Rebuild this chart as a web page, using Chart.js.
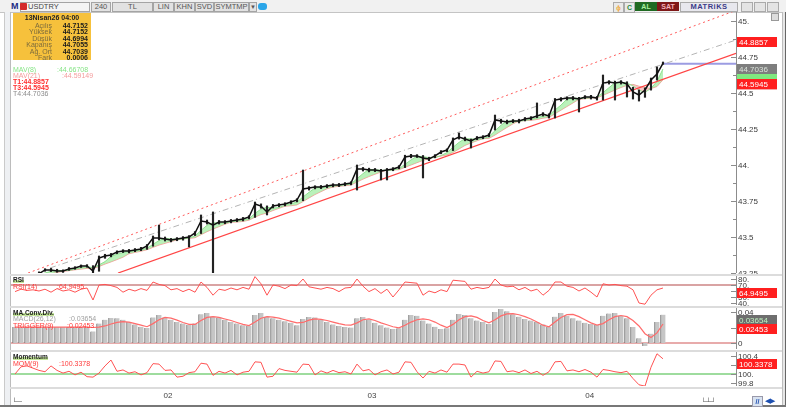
<!DOCTYPE html>
<html>
<head>
<meta charset="utf-8">
<script src="https://cdn.jsdelivr.net/npm/chart.js@4.4.1/dist/chart.umd.min.js"></script>
<style>
  body { margin: 0; width: 801px; height: 412px; background: #fff; position: relative; overflow: hidden;
         font-family: "Liberation Sans", Arial, sans-serif; }
  .a { position: absolute; white-space: nowrap; }
  canvas { position: absolute; }
  .tb { position: absolute; top: 2px; height: 8px; border: 1px solid #a4a4a4; background: #e2e2e2;
        font-size: 7.5px; line-height: 8px; text-align: center; color: #555; }
  .sep { position: absolute; left: 10px; width: 772px; height: 2px; background: #dcdcdc; }
  .t { font-size: 7px; line-height: 7px; }
  .ttl { font-size: 6.5px; line-height: 7px; font-weight: bold; color: #1a1a1a;
         background: linear-gradient(to bottom, transparent 55%, #c4e69a 55%); }
</style>
</head>
<body>
<!-- frame -->
<div class="a" style="left:0;top:0;width:786px;height:12px;background:#f1f1f1;border-bottom:1px solid #c4c4c4"></div>
<div class="a" style="left:4px;top:12px;width:5px;height:393px;background:#eef0f3;border-left:1px solid #cacaca;border-right:1px solid #bcbcbc"></div>
<div class="a" style="left:782px;top:12px;width:2px;height:393px;background:#e6e6e6;border-left:1px solid #bdbdbd;border-right:1px solid #666"></div>
<div class="a" style="left:0;top:405px;width:786px;height:2px;background:#777"></div>
<div class="sep" style="top:274px"></div>
<div class="sep" style="top:306px"></div>
<div class="sep" style="top:350px"></div>
<div class="sep" style="top:387px"></div>

<!-- toolbar -->
<div class="tb" style="left:20px;width:68px;background:#f4f4f4;text-align:left"></div>
<div class="a" style="left:11px;top:1px;font-size:9px;font-weight:bold;color:#1c2a84;line-height:11px">M</div>
<div class="a" style="left:20px;top:3px;width:7px;height:7px;background:#d42a2a;border-radius:1px"></div>
<div class="a" style="left:28px;top:2px;font-size:7.5px;line-height:10px;color:#444">USDTRY</div>
<div class="tb" style="left:91px;width:18px">240</div>
<div class="tb" style="left:112px;width:39px">TL</div>
<div class="tb" style="left:153px;width:19px">LIN</div>
<div class="tb" style="left:174px;width:19px">KHN</div>
<div class="tb" style="left:195px;width:17px">SVD</div>
<div class="tb" style="left:214px;width:33px">SYMTMP</div>
<div class="tb" style="left:249px;width:6px;font-size:6px">&#9660;</div>
<div class="a" style="left:258px;top:3px;width:9px;height:7px;background:#2aa5e8;border-radius:3px"></div>
<div class="a" style="left:613px;top:2px;width:9px;height:9px;background:#e9e9e9;border:1px solid #aaa;color:#f0a020;font-size:8px;line-height:9px;text-align:center">&#981;</div>
<div class="a" style="left:624px;top:2px;width:9px;height:9px;background:#e9e9e9;border:1px solid #aaa;color:#2a8a3a;font-size:7px;font-weight:bold;line-height:9px;text-align:center">C</div>
<div class="a" style="left:635px;top:2px;width:22px;height:9px;background:#1f6a22;color:#a8f0a0;font-size:7px;font-weight:bold;line-height:9px;text-align:center">AL</div>
<div class="a" style="left:657px;top:2px;width:22px;height:9px;background:#7e1717;color:#f4b0b8;font-size:7px;font-weight:bold;line-height:9px;text-align:center">SAT</div>
<div class="a" style="left:680px;top:2px;width:56px;height:8px;background:#e8e8ee;border:1px solid #aaa;color:#3b3b88;font-size:7.5px;font-weight:bold;line-height:8px;text-align:center;letter-spacing:0.5px">MATRiKS</div>
<div class="a" style="left:741px;top:2px;width:10px;height:8px;background:#e4e4e4;border:1px solid #aaa"></div>
<div class="a" style="left:754px;top:2px;width:10px;height:8px;background:#e4e4e4;border:1px solid #aaa"></div>
<div class="a" style="left:767px;top:2px;width:10px;height:8px;background:#e4e4e4;border:1px solid #aaa"></div>
<div class="a" style="left:771px;top:13px;width:6px;height:6px;background:#ddd;border:1px solid #999"></div>

<canvas id="main" width="771" height="266" style="left:11px;top:8px"></canvas>
<canvas id="rsi" width="771" height="37" style="left:11px;top:272px"></canvas>
<canvas id="macd" width="771" height="49" style="left:11px;top:304px"></canvas>
<canvas id="mom" width="771" height="58" style="left:11px;top:348px"></canvas>

<!-- info box -->
<div id="info" class="a" style="left:13px;top:13px;width:78px;height:47px;background:#f6c13c"></div>
<div id="legend"></div>

<!-- panel titles -->
<div class="a ttl" style="left:13px;top:276px">RSI</div>
<div class="a t" style="left:13px;top:283px;color:#ff3b3b">RSI(14)</div>
<div id="rsiTxt" class="a t" style="left:57px;top:283px;color:#ff3b3b"></div>
<div class="a ttl" style="left:13px;top:309px">MA.Conv.Div.</div>
<div class="a t" style="left:13px;top:315px;color:#a0a0a0">MACD(26,12)</div>
<div id="macdTxt" class="a t" style="left:69px;top:315px;color:#a0a0a0"></div>
<div class="a t" style="left:13px;top:322px;color:#ff3b3b">TRIGGER(9)</div>
<div id="trigTxt" class="a t" style="left:67px;top:322px;color:#ff3b3b"></div>
<div class="a ttl" style="left:13px;top:353px">Momentum</div>
<div class="a t" style="left:13px;top:360px;color:#ff3b3b">MOM(9)</div>
<div id="momTxt" class="a t" style="left:59px;top:360px;color:#ff3b3b"></div>

<!-- bottom icons -->
<div class="a" style="left:12px;top:398px;font-size:7px;color:#555">&#9492;&#9472;</div>
<div class="a" style="left:701px;top:398px;font-size:7px;color:#555">&#9492;&#9524;&#9496;</div>
<div class="a" style="left:752px;top:396px;width:9px;height:9px;background:#d8e2f0;border:1px solid #99a;color:#1d4fb0;font-size:7px;font-weight:bold;line-height:9px;text-align:center">//</div>
<div class="a" style="left:765px;top:397px;font-size:7px;color:#1d4fb0">&#9664;&#9654;</div>

<script>
// bar index 0 = first bar, 6 px apart; last bar (108) = 13Nisan26 04:00
const monthTicks = [25.5, 59.5, 95.8];
const monthLabels = ['02', '03', '04'];

const closes = [43.200,43.210,43.220,43.230,43.245,43.271,43.271,43.264,43.264,43.278,
  43.285,43.299,43.299,43.264,43.354,43.368,43.375,43.396,43.403,43.403,
  43.410,43.417,43.438,43.493,43.493,43.486,43.479,43.486,43.493,43.500,
  43.528,43.611,43.604,43.583,43.604,43.604,43.611,43.618,43.625,43.639,
  43.729,43.715,43.674,43.715,43.722,43.729,43.743,43.757,43.833,43.840,
  43.847,43.847,43.854,43.861,43.861,43.868,43.875,43.972,43.972,43.965,
  43.965,43.958,43.965,43.972,43.986,44.056,44.063,44.063,44.049,44.042,
  44.063,44.090,44.104,44.174,44.194,44.181,44.167,44.188,44.194,44.208,
  44.313,44.306,44.299,44.306,44.306,44.319,44.326,44.340,44.354,44.340,
  44.451,44.458,44.465,44.465,44.458,44.472,44.472,44.465,44.569,44.576,
  44.569,44.576,44.563,44.507,44.486,44.521,44.590,44.632,44.7055];
const highs = [43.210,43.220,43.232,43.240,43.258,43.280,43.282,43.276,43.272,43.288,
  43.294,43.306,43.308,43.301,43.368,43.380,43.386,43.404,43.412,43.414,
  43.420,43.428,43.448,43.507,43.583,43.500,43.490,43.496,43.503,43.510,
  43.538,43.653,43.618,43.674,43.615,43.614,43.622,43.628,43.636,43.648,
  43.743,43.730,43.716,43.726,43.732,43.738,43.752,43.766,43.965,43.850,
  43.856,43.858,43.864,43.870,43.872,43.878,43.884,44.000,43.983,43.978,
  43.976,43.970,43.976,43.982,43.996,44.068,44.074,44.072,44.066,44.054,
  44.072,44.100,44.112,44.188,44.222,44.194,44.180,44.198,44.204,44.218,
  44.347,44.318,44.312,44.316,44.318,44.330,44.336,44.431,44.364,44.356,
  44.462,44.468,44.474,44.476,44.470,44.482,44.484,44.476,44.625,44.586,
  44.582,44.586,44.578,44.540,44.521,44.535,44.604,44.681,44.7152];
const lows = [43.190,43.200,43.212,43.220,43.236,43.262,43.260,43.255,43.254,43.268,
  43.276,43.288,43.290,43.250,43.262,43.352,43.362,43.384,43.392,43.390,
  43.398,43.405,43.414,43.436,43.480,43.472,43.466,43.474,43.478,43.431,
  43.510,43.524,43.590,43.250,43.590,43.592,43.598,43.606,43.612,43.626,
  43.636,43.700,43.653,43.702,43.710,43.716,43.730,43.744,43.752,43.826,
  43.834,43.836,43.842,43.848,43.850,43.856,43.862,43.826,43.958,43.952,
  43.954,43.896,43.896,43.960,43.974,43.982,44.050,44.052,43.910,44.030,
  44.050,44.078,44.092,44.100,44.180,44.168,44.118,44.176,44.182,44.196,
  44.243,44.290,44.286,44.294,44.292,44.306,44.314,44.328,44.340,44.326,
  44.326,44.444,44.452,44.452,44.368,44.460,44.458,44.451,44.451,44.562,
  44.451,44.562,44.472,44.458,44.444,44.470,44.520,44.590,44.6994];
const mav8 = [43.195,43.205,43.215,43.225,43.238,43.250,43.262,43.269,43.266,43.269,
  43.276,43.287,43.294,43.287,43.306,43.329,43.366,43.380,43.391,43.401,
  43.405,43.410,43.422,43.449,43.475,43.491,43.486,43.484,43.486,43.493,
  43.507,43.546,43.581,43.599,43.597,43.597,43.606,43.611,43.618,43.627,
  43.664,43.694,43.706,43.701,43.704,43.722,43.731,43.743,43.778,43.810,
  43.840,43.845,43.849,43.854,43.859,43.863,43.868,43.905,43.940,43.970,
  43.967,43.963,43.963,43.965,43.974,44.005,44.035,44.061,44.058,44.051,
  44.051,44.065,44.086,44.123,44.157,44.183,44.181,44.179,44.183,44.197,
  44.238,44.276,44.306,44.304,44.304,44.310,44.317,44.328,44.340,44.345,
  44.382,44.416,44.458,44.463,44.463,44.465,44.467,44.470,44.502,44.537,
  44.571,44.574,44.569,44.549,44.519,44.505,44.532,44.581,44.66708];
const mav21 = [43.190,43.197,43.205,43.213,43.222,43.233,43.245,43.254,43.261,43.266,
  43.272,43.277,43.282,43.282,43.295,43.312,43.327,43.343,43.360,43.384,
  43.393,43.401,43.412,43.428,43.444,43.456,43.468,43.480,43.488,43.490,
  43.495,43.516,43.537,43.555,43.572,43.589,43.603,43.604,43.608,43.617,
  43.638,43.656,43.667,43.684,43.699,43.714,43.717,43.723,43.746,43.771,
  43.795,43.815,43.835,43.847,43.852,43.856,43.861,43.882,43.902,43.920,
  43.936,43.951,43.966,43.966,43.967,43.984,44.000,44.016,44.032,44.045,
  44.056,44.062,44.070,44.087,44.111,44.136,44.153,44.168,44.183,44.185,
  44.208,44.235,44.261,44.286,44.306,44.308,44.310,44.316,44.325,44.331,
  44.356,44.381,44.406,44.431,44.456,44.460,44.465,44.466,44.484,44.502,
  44.521,44.538,44.553,44.560,44.547,44.537,44.531,44.545,44.59149];

const rsi = [59,63,61,62,60,63,58,64,60,62,
  58,63,65,45,70,71,69,66,58,63,
  60,64,61,75,71,69,62,64,59,63,
  58,75,66,53,63,61,65,62,66,63,
  84,72,53,70,68,64,70,69,80,67,
  65,63,66,64,59,65,66,80,68,59,
  64,56,63,50,62,75,74,73,53,60,
  57,62,59,78,77,76,63,66,64,66,
  80,70,67,68,62,66,60,63,53,61,
  75,75,68,66,60,65,58,50,72,70,
  71,69,68,62,40,38,53,62,64.9495];
const macd = [0.0206,0.0206,0.0206,0.0206,0.0206,0.0206,0.0205,0.0206,0.0206,0.0207,
  0.0207,0.0208,0.0207,0.0150,0.0250,0.0300,0.0323,0.0320,0.0300,0.0270,
  0.0240,0.0210,0.0194,0.0330,0.0361,0.0330,0.0300,0.0270,0.0250,0.0232,
  0.0250,0.0370,0.0387,0.0340,0.0330,0.0300,0.0270,0.0250,0.0230,0.0219,
  0.0360,0.0387,0.0340,0.0320,0.0300,0.0280,0.0260,0.0230,0.0310,0.0335,
  0.0330,0.0300,0.0270,0.0240,0.0220,0.0206,0.0200,0.0320,0.0335,0.0300,
  0.0260,0.0230,0.0200,0.0181,0.0190,0.0300,0.0361,0.0350,0.0290,0.0250,
  0.0210,0.0181,0.0190,0.0300,0.0374,0.0360,0.0320,0.0290,0.0270,0.0245,
  0.0400,0.0439,0.0410,0.0370,0.0340,0.0310,0.0290,0.0270,0.0240,0.0206,
  0.0340,0.0387,0.0350,0.0320,0.0290,0.0260,0.0245,0.0232,0.0350,0.0380,
  0.0387,0.0350,0.0320,0.0206,0.0060,-0.0039,0.0120,0.0271,0.03654];
const trigger = [0.0206,0.0206,0.0206,0.0206,0.0206,0.0206,0.0206,0.0206,0.0206,0.0206,
  0.0206,0.0206,0.0206,0.0200,0.0205,0.0220,0.0245,0.0265,0.0275,0.0270,
  0.0250,0.0230,0.0210,0.0250,0.0300,0.0330,0.0320,0.0295,0.0265,0.0240,
  0.0240,0.0290,0.0330,0.0340,0.0330,0.0310,0.0290,0.0265,0.0240,0.0225,
  0.0270,0.0320,0.0340,0.0335,0.0320,0.0300,0.0280,0.0260,0.0265,0.0295,
  0.0310,0.0305,0.0290,0.0270,0.0250,0.0235,0.0230,0.0260,0.0300,0.0310,
  0.0290,0.0260,0.0235,0.0210,0.0195,0.0230,0.0270,0.0300,0.0310,0.0300,
  0.0270,0.0230,0.0200,0.0240,0.0300,0.0340,0.0350,0.0330,0.0290,0.0260,
  0.0300,0.0350,0.0375,0.0378,0.0365,0.0340,0.0310,0.0270,0.0230,0.0210,
  0.0270,0.0330,0.0365,0.0370,0.0340,0.0300,0.0260,0.0230,0.0250,0.0300,
  0.0340,0.0355,0.0340,0.0290,0.0220,0.0120,0.0070,0.0130,0.02453];
const momentum = [100.00,100.16,100.18,100.13,100.08,100.05,100.18,100.08,100.02,100.06,
  99.98,100.04,99.94,99.93,100.02,100.18,100.31,100.06,100.09,100.02,
  100.05,99.98,100.03,100.23,100.22,100.08,100.09,99.93,99.95,100.03,
  100.05,100.24,100.22,99.97,100.06,100.02,100.08,99.98,100.04,100.06,
  100.27,100.26,99.93,99.95,100.12,100.08,100.06,100.04,100.22,100.21,
  99.98,100.07,100.02,100.08,100.03,100.05,100.00,100.22,100.07,100.10,
  99.98,100.05,100.09,100.00,100.04,100.27,100.26,100.05,99.91,100.06,
  100.02,100.09,100.04,100.22,100.22,100.20,99.93,100.06,100.02,100.05,
  100.29,100.28,100.05,100.07,100.03,100.09,100.01,100.06,99.97,100.05,
  100.27,100.28,100.07,100.09,100.05,100.10,100.04,99.93,100.10,100.08,
  100.05,100.03,100.06,99.90,99.76,99.73,100.15,100.45,100.3378];

// trend lines as [bar index, price] pairs
const lineT1 = [[2.17, 43.25], [120.17, 45.074]];
const lineT3 = [[17.17, 43.25], [120.17, 44.775]];
const lineMid = [[5.83, 43.285], [120.17, 44.868]];
const lineT4 = [[108, 44.7036], [120.17, 44.7036]];

const priceTickValues = [43.25, 43.5, 43.75, 44, 44.25, 44.5, 44.75, 45];
const priceTickLabels = ['43.25', '43.5', '43.75', '44.', '44.25', '44.5', '44.75', '45.'];
const rsiTickValues = [40, 50, 60, 70, 80];
const rsiTickLabels = ['40.', '50.', '60.', '70.', '80.'];
const macdTickValues = [0, 0.02, 0.04];
const macdTickLabels = ['0', '0.02', '0.04'];
const momTickValues = [99.8, 100, 100.2, 100.4];
const momTickLabels = ['99.8', '100.', '100.2', '100.4'];

const infoTitle = '13Nisan26 04:00';
const infoLabels = ['Açılış', 'Yüksek', 'Düşük', 'Kapanış', 'Ağ. Ort', 'Fark'];
const infoValues = ['44.7152', '44.7152', '44.6994', '44.7055', '44.7039', '0.0006'];

const mav8Last = 44.66708, mav21Last = 44.59149;
const t1 = 44.8857, t3 = 44.5945, t4 = 44.7036;
const rsiLast = 64.9495, macdLast = 0.03654, trigLast = 0.02453, momLast = 100.3378;

// ---- text parts ----
const info = document.getElementById('info');
info.innerHTML = '<div class="a" style="left:0;top:1px;width:78px;text-align:center;font-size:7px;font-weight:bold;color:#222">' + infoTitle + '</div>' +
  infoLabels.map((l, i) =>
    '<div class="a" style="right:39px;top:' + (9 + i * 6.4) + 'px;font-size:7px;line-height:7px;color:#7c6b3c">' + l + '</div>' +
    '<div class="a" style="right:3px;top:' + (9 + i * 6.4) + 'px;font-size:7px;line-height:7px;font-weight:bold;color:#1b1b1b">' + infoValues[i] + '</div>'
  ).join('');

document.getElementById('legend').innerHTML =
  '<div class="a t" style="left:13px;top:66px;color:#86e486">MAV(8)</div><div class="a t" style="left:57px;top:66px;color:#86e486">:' + mav8Last + '</div>' +
  '<div class="a t" style="left:13px;top:72px;color:#f49c9c">MAV(21)</div><div class="a t" style="left:62px;top:72px;color:#f49c9c">:' + mav21Last + '</div>' +
  '<div class="a t" style="left:13px;top:78px;color:#ff3030;font-weight:bold">T1:' + t1 + '</div>' +
  '<div class="a t" style="left:13px;top:84px;color:#ff3030;font-weight:bold">T3:' + t3 + '</div>' +
  '<div class="a t" style="left:13px;top:90px;color:#8c8c8c">T4:' + t4 + '</div>';
document.getElementById('rsiTxt').textContent = ':' + rsiLast;
document.getElementById('macdTxt').textContent = ':' + macdLast;
document.getElementById('trigTxt').textContent = ':' + trigLast;
document.getElementById('momTxt').textContent = ':' + momLast;

// ---- right axis, badges, level lines ----
function sideAxis(cfg) {
  return {
    id: 'sideAxis',
    beforeDatasetsDraw(chart) {
      const { ctx, chartArea: a, scales: { y } } = chart;
      (cfg.levels || []).forEach(l => {
        const py = y.getPixelForValue(l.v);
        ctx.save();
        ctx.strokeStyle = l.color; ctx.lineWidth = 2;
        ctx.beginPath(); ctx.moveTo(a.left, py); ctx.lineTo(a.right, py); ctx.stroke();
        ctx.restore();
      });
    },
    afterDraw(chart) {
      const { ctx, chartArea: a, scales: { x, y } } = chart;
      ctx.save();
      ctx.strokeStyle = '#8c8c8c'; ctx.lineWidth = 1;
      ctx.beginPath(); ctx.moveTo(a.right + 0.5, a.top); ctx.lineTo(a.right + 0.5, a.bottom); ctx.stroke();
      ctx.font = '8px "Liberation Sans"'; ctx.fillStyle = '#3a3a3a'; ctx.textBaseline = 'middle';
      (cfg.minor || []).forEach(v => {
        const py = Math.round(y.getPixelForValue(v)) + 0.5;
        ctx.beginPath(); ctx.moveTo(a.right - 3, py); ctx.lineTo(a.right, py); ctx.stroke();
      });
      cfg.ticks.forEach((v, i) => {
        const py = Math.round(y.getPixelForValue(v)) + 0.5;
        ctx.beginPath(); ctx.moveTo(a.right - 5, py); ctx.lineTo(a.right, py); ctx.stroke();
        ctx.fillText(cfg.labels[i], a.right + 2, py);
      });
      ctx.textBaseline = 'top';
      cfg.badges.forEach(b => {
        const py = Math.round(y.getPixelForValue(b.v));
        ctx.fillStyle = b.bg; ctx.fillRect(a.right + 1, py, 40, 10);
        if (b.text) { ctx.fillStyle = b.fg; ctx.fillText(b.text, a.right + 3, py + 1.5); }
      });
      if (cfg.xLabels) {
        ctx.fillStyle = '#444'; ctx.textAlign = 'center';
        cfg.xTicks.forEach((v, i) => ctx.fillText(cfg.xLabels[i], x.getPixelForValue(v), a.bottom + 6));
      }
      ctx.restore();
    }
  };
}

function opts(ymin, ymax, padTop, padBottom) {
  return {
    responsive: false, animation: false, events: [],
    layout: { padding: { left: 0, right: 46, top: padTop, bottom: padBottom } },
    plugins: { legend: { display: false }, tooltip: { enabled: false } },
    scales: {
      x: { type: 'linear', min: -0.67, max: 120.17, offset: false, display: false },
      y: { min: ymin, max: ymax, display: false }
    },
    elements: { point: { radius: 0 }, line: { tension: 0 } }
  };
}
const pts = arr => arr.map((v, i) => ({ x: i, y: v }));
const seg = arr => arr.map(p => ({ x: p[0], y: p[1] }));
const RED = '#ff1f1f';

// main price panel
new Chart(document.getElementById('main'), {
  type: 'line',
  data: { datasets: [
    { data: pts(mav21), borderColor: '#f2a9a2', borderWidth: 1, fill: false, order: 9 },
    { data: pts(mav8), borderColor: '#8fe08f', borderWidth: 1, order: 8,
      fill: { target: '-1', above: 'rgba(140,232,140,0.6)', below: 'rgba(246,168,168,0.65)' } },
    { data: seg(lineT1), borderColor: '#ff5a5a', borderWidth: 1, borderDash: [2, 3], fill: false, order: 6 },
    { data: seg(lineMid), borderColor: '#b4b4b4', borderWidth: 1, borderDash: [6, 3, 1, 3], fill: false, order: 6 },
    { data: seg(lineT3), borderColor: '#ff4545', borderWidth: 1.3, fill: false, order: 6 },
    { data: seg(lineT4), borderColor: '#9c9ce2', borderWidth: 2, fill: false, order: 6 },
    { type: 'bar', data: highs.map((h, i) => ({ x: i, y: [lows[i], h] })), backgroundColor: '#222', barThickness: 1.5, order: 2 },
    { data: pts(closes), borderColor: '#111', borderWidth: 1.5, fill: false, order: 1 }
  ] },
  options: opts(43.25, 45.0625, 4, 1),
  plugins: [sideAxis({
    ticks: priceTickValues, labels: priceTickLabels,
    minor: priceTickValues.slice(1).map((v, i) => (v + priceTickValues[i]) / 2),
    badges: [
      { v: mav8Last, bg: '#7fe87f' }, { v: mav21Last, bg: '#f4a8a8' },
      { v: t4, bg: '#7e7e7e', fg: '#d9e2d9', text: String(t4) },
      { v: t1, bg: RED, fg: '#fff', text: String(t1) },
      { v: t3, bg: RED, fg: '#fff', text: String(t3) }
    ]
  })]
});

// RSI
new Chart(document.getElementById('rsi'), {
  type: 'line',
  data: { datasets: [{ data: pts(rsi), borderColor: '#ff5252', borderWidth: 1, fill: false }] },
  options: opts(36.67, 85, 4, 4),
  plugins: [sideAxis({
    ticks: rsiTickValues, labels: rsiTickLabels,
    levels: [{ v: 70, color: '#d9a3a3' }],
    badges: [{ v: rsiLast, bg: RED, fg: '#fff', text: String(rsiLast) }]
  })]
});

// MACD
new Chart(document.getElementById('macd'), {
  type: 'line',
  data: { datasets: [
    { type: 'bar', data: pts(macd), backgroundColor: '#c6c6c6', borderColor: '#7a7a7a',
      borderWidth: { left: 1, right: 0, top: 0, bottom: 0 }, barThickness: 5, order: 3 },
    { data: pts(trigger), borderColor: '#ff6b6b', borderWidth: 1.2, fill: false, order: 1 }
  ] },
  options: opts(-0.00774, 0.04516, 4, 4),
  plugins: [sideAxis({
    ticks: macdTickValues, labels: macdTickLabels,
    levels: [{ v: 0, color: '#e8abab' }],
    badges: [
      { v: macdLast, bg: '#6e6e6e', fg: '#bdf0bd', text: String(macdLast) },
      { v: trigLast, bg: RED, fg: '#fff', text: String(trigLast) }
    ]
  })]
});

// Momentum + date axis
new Chart(document.getElementById('mom'), {
  type: 'line',
  data: { datasets: [{ data: pts(momentum), borderColor: '#ff5252', borderWidth: 1, fill: false }] },
  options: opts(99.733, 100.489, 4, 20),
  plugins: [sideAxis({
    ticks: momTickValues, labels: momTickLabels,
    levels: [{ v: 100, color: '#9edc9e' }],
    badges: [{ v: momLast, bg: RED, fg: '#fff', text: String(momLast) }],
    xTicks: monthTicks, xLabels: monthLabels
  })]
});
</script>
</body>
</html>
